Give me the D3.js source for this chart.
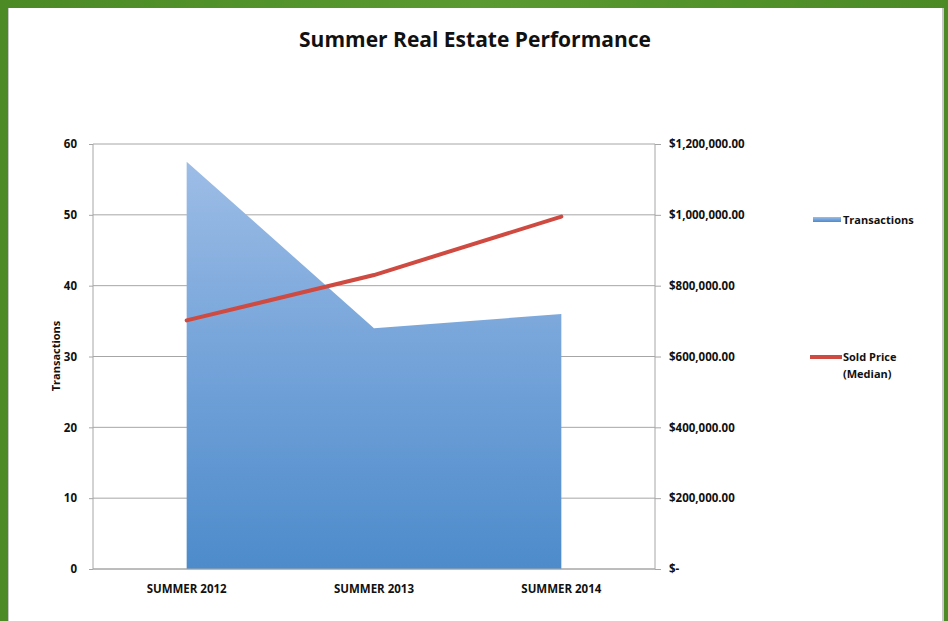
<!DOCTYPE html>
<html>
<head>
<meta charset="utf-8">
<script src="https://d3js.org/d3.v7.min.js"></script>
<style>
  body { margin: 0; background: #4e8c2a; }
  text { font-family: "Open Sans", "Noto Sans", sans-serif; }
</style>
</head>
<body>
<div id="chart"></div>
<script>
  // data
  var seasons = ["SUMMER 2012", "SUMMER 2013", "SUMMER 2014"];
  var transactions = [57.5, 34, 36];
  var soldPrice = [702000, 830000, 995000];
  var leftTicks = [0, 10, 20, 30, 40, 50, 60];
  var rightTicks = [0, 200000, 400000, 600000, 800000, 1000000, 1200000];

  var W = 948, H = 621;
  var margin = {top: 144, left: 93, right: 293, bottom: 52};
  var width = W - margin.left - margin.right,
      height = H - margin.top - margin.bottom;

  var svg = d3.select("#chart")
    .append("svg")
      .attr("width", W)
      .attr("height", H);

  // green frame
  var defs = svg.append("defs");
  var frameGrad = defs.append("linearGradient")
    .attr("id", "frame").attr("x1", 0).attr("y1", 0).attr("x2", 1).attr("y2", 0);
  frameGrad.append("stop").attr("offset", "0%").attr("stop-color", "#4b8a25");
  frameGrad.append("stop").attr("offset", "50%").attr("stop-color", "#5a9a30");
  frameGrad.append("stop").attr("offset", "100%").attr("stop-color", "#4b8a25");
  svg.append("rect").attr("width", W).attr("height", H).attr("fill", "url(#frame)");
  svg.append("rect")
    .attr("x", 8).attr("y", 8).attr("width", 936).attr("height", H - 8)
    .attr("fill", "#c8c8c8");
  svg.append("rect")
    .attr("x", 9).attr("y", 8).attr("width", 933).attr("height", H - 8)
    .attr("fill", "#ffffff");

  // title
  svg.append("text")
    .attr("x", 475).attr("y", 47)
    .attr("text-anchor", "middle")
    .style("font-size", "21px")
    .style("font-weight", "bold")
    .attr("fill", "#111")
    .text("Summer Real Estate Performance");

  var g = svg.append("g")
    .attr("transform", "translate(" + margin.left + "," + margin.top + ")");

  var x = d3.scaleBand().domain(seasons).range([0, width]);
  var y = d3.scaleLinear().domain([0, 60]).range([height, 0]);
  var y2 = d3.scaleLinear().domain([0, 1200000]).range([height, 0]);
  var cx = function(d) { return x(d) + x.bandwidth() / 2; };

  // gridlines
  g.append("g")
    .selectAll("line")
    .data(leftTicks)
    .enter()
    .append("line")
      .attr("x1", 0).attr("x2", width)
      .attr("y1", function(d) { return y(d); })
      .attr("y2", function(d) { return y(d); })
      .attr("stroke", "#a6a6a6")
      .attr("stroke-width", 1);

  // area fill
  var areaGrad = defs.append("linearGradient")
    .attr("id", "areaFill").attr("x1", 0).attr("y1", 0).attr("x2", 0).attr("y2", 1);
  areaGrad.append("stop").attr("offset", "0%").attr("stop-color", "#9dbde6");
  areaGrad.append("stop").attr("offset", "45%").attr("stop-color", "#77a5da");
  areaGrad.append("stop").attr("offset", "100%").attr("stop-color", "#4d8bcb");

  var area = d3.area()
    .x(function(d, i) { return cx(seasons[i]); })
    .y0(height)
    .y1(function(d) { return y(d); });

  g.append("path")
    .datum(transactions)
    .attr("d", area)
    .attr("fill", "url(#areaFill)");

  // price line
  var line = d3.line()
    .x(function(d, i) { return cx(seasons[i]); })
    .y(function(d) { return y2(d); });

  g.append("path")
    .datum(soldPrice)
    .attr("d", line)
    .attr("fill", "none")
    .attr("stroke", "#cf4a40")
    .attr("stroke-width", 4)
    .attr("stroke-linecap", "round");

  // left axis
  var leftAxis = d3.axisLeft(y).tickValues(leftTicks).tickSize(4).tickPadding(12);
  var la = g.append("g").call(leftAxis);
  la.select(".domain").attr("stroke", "#a6a6a6").attr("d", "M0,0V" + height);
  la.selectAll(".tick line").attr("stroke", "#a6a6a6");
  la.selectAll("text")
    .style("font-size", "11.5px").style("font-weight", "bold").attr("fill", "#111");

  // right axis
  var fmt = function(d) {
    return d === 0 ? "$-" : "$" + d3.format(",.2f")(d);
  };
  var rightAxis = d3.axisRight(y2).tickValues(rightTicks).tickFormat(fmt).tickSize(6).tickPadding(8);
  var ra = g.append("g").attr("transform", "translate(" + width + ",0)").call(rightAxis);
  ra.select(".domain").attr("stroke", "#a6a6a6").attr("d", "M0,0V" + height);
  ra.selectAll(".tick line").attr("stroke", "#a6a6a6");
  ra.selectAll("text")
    .style("font-size", "11.5px").style("font-weight", "bold").attr("fill", "#111");

  // bottom axis labels
  g.append("line")
    .attr("x1", 0).attr("x2", width).attr("y1", height).attr("y2", height)
    .attr("stroke", "#a6a6a6");
  g.append("g")
    .selectAll("text")
    .data(seasons)
    .enter()
    .append("text")
      .attr("x", function(d) { return cx(d); })
      .attr("y", height + 24)
      .attr("text-anchor", "middle")
      .style("font-size", "11.5px")
      .style("font-weight", "bold")
      .attr("fill", "#111")
      .text(function(d) { return d; });

  // y axis title
  svg.append("text")
    .attr("transform", "translate(60,356) rotate(-90)")
    .attr("text-anchor", "middle")
    .style("font-size", "11px")
    .style("font-weight", "bold")
    .attr("fill", "#111")
    .text("Transactions");

  // legend
  var legend = svg.append("g");
  legend.append("rect")
    .attr("x", 813).attr("y", 217).attr("width", 28).attr("height", 5)
    .attr("fill", "url(#areaFill)");
  legend.append("text")
    .attr("x", 843).attr("y", 224)
    .style("font-size", "11px").style("font-weight", "bold").attr("fill", "#111")
    .text("Transactions");
  legend.append("line")
    .attr("x1", 810).attr("x2", 842).attr("y1", 357).attr("y2", 357)
    .attr("stroke", "#cf4a40").attr("stroke-width", 4);
  legend.append("text")
    .attr("x", 843).attr("y", 361)
    .style("font-size", "11px").style("font-weight", "bold").attr("fill", "#111")
    .text("Sold Price");
  legend.append("text")
    .attr("x", 843).attr("y", 378)
    .style("font-size", "11px").style("font-weight", "bold").attr("fill", "#111")
    .text("(Median)");
</script>
</body>
</html>
